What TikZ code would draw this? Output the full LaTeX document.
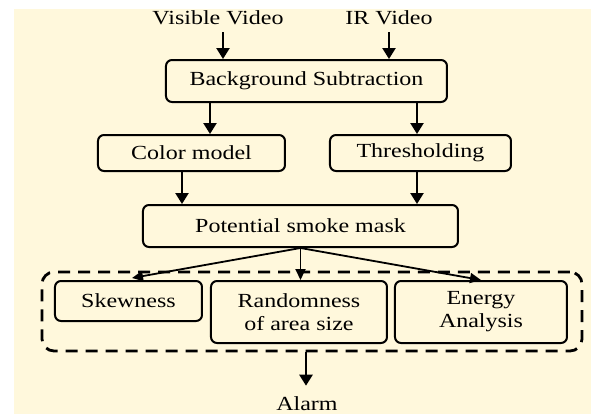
\documentclass[tikz,border=0pt]{standalone}
\usepackage{fontspec}
\setmainfont{Liberation Serif}[FakeStretch=1.2]
\usepackage{tikz}
\usetikzlibrary{arrows.meta, positioning}
\usepackage{xcolor}
\definecolor{cream}{RGB}{255,248,220}

\begin{document}
\begin{tikzpicture}[
    x=0.5pt, y=-0.5pt,
    box/.style={draw, rounded corners=3pt, line width=1pt, align=center, inner sep=0pt, font=\fontsize{10}{11.4}\selectfont},
    lbl/.style={font=\fontsize{10}{11.4}\selectfont},
    arr/.style={-{Triangle[length=5.5pt, width=6.5pt]}, line width=1.2pt},
    farr/.style={-{Triangle[length=5.5pt, width=5pt]}, line width=0.9pt},
    grpbox/.style={draw, dash pattern=on 6pt off 4pt, line width=1.4pt, rounded corners=6pt},
]

% ---- Pozadina ----
\useasboundingbox (0,0) rectangle (591,414);
\fill[cream] (14,9) rectangle (591,414);

% ---- Ulazi ----
\node[lbl] (vis) at (218,18) {Visible Video};
\node[lbl] (ir) at (389,18) {IR Video};

% ---- Obrada ----
\node[box, minimum width=140.5pt, minimum height=21pt] (bs) at (306.5,81) {Background Subtraction};
\node[box, minimum width=93.5pt, minimum height=18pt] (cm) at (191.5,153) {Color model};
\node[box, minimum width=90.5pt, minimum height=18pt] (th) at (420.5,153) {Thresholding};
\node[box, minimum width=157.5pt, minimum height=21pt] (psm) at (300.5,226) {Potential smoke mask};

% ---- Obelezja ----
\node[grpbox, minimum width=270pt, minimum height=39.5pt] (grp) at (312,311.5) {};
\node[box, minimum width=73.5pt, minimum height=20pt] (skew) at (128.5,301) {Skewness};
\node[box, minimum width=88pt, minimum height=31pt] (rand) at (299,312) {Randomness\\of area size};
\node[box, minimum width=86pt, minimum height=31pt] (en) at (481,312) {Energy\\Analysis};

% ---- Izlaz ----
\node[lbl, anchor=base, inner sep=1pt] (alarm) at (307,410) {Alarm};

% ---- Strelice ----
\draw[arr] ([xshift=2.5pt]vis.south) -- ([xshift=2.5pt]vis.south |- bs.north);
\draw[arr] (ir.south) -- (ir.south |- bs.north);
\draw[arr] ([xshift=9.25pt]cm.north |- bs.south) -- ([xshift=9.25pt]cm.north);
\draw[arr] ([xshift=-1.75pt]th.north |- bs.south) -- ([xshift=-1.75pt]th.north);
\draw[arr] ([xshift=-4.75pt]cm.south) -- ([xshift=-4.75pt]cm.south |- psm.north);
\draw[arr] ([xshift=-1.75pt]th.south) -- ([xshift=-1.75pt]th.south |- psm.north);
\draw[farr] (psm.south) -- ([xshift=1.75pt, yshift=1pt]skew.north);
\draw[farr] (psm.south) -- (psm.south |- rand.north);
\draw[farr] (psm.south) -- (en.north);
\draw[arr] ([xshift=-3pt]grp.south) -- ([xshift=-3pt, yshift=4pt]grp.south |- alarm.north);

\end{tikzpicture}
\end{document}
